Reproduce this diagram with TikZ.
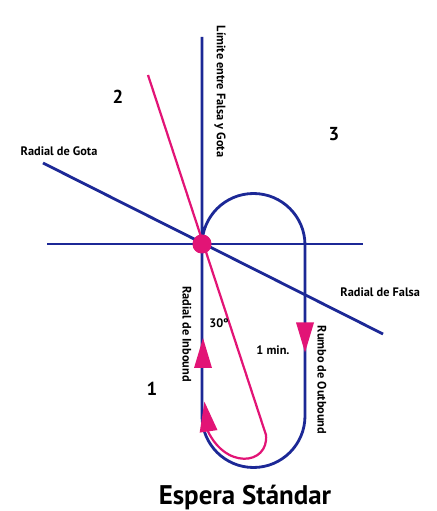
\documentclass[tikz,border=0pt]{standalone}
\usepackage{fontspec}
\setmainfont{PT Sans}
\usepackage{tikz}
\usetikzlibrary{positioning}

\definecolor{azul}{RGB}{28,40,150}
\definecolor{rosa}{RGB}{226,20,118}

\tikzset{
  pics/flecha/.style={code={\fill[rosa] (0,15) -- (-9,-15) -- (9,-15) -- cycle;}}
}

\begin{document}
\begin{tikzpicture}[
  x=0.3mm, y=0.3mm,
  azulline/.style={draw=azul, line width=2.4pt},
  rosaline/.style={draw=rosa, line width=1.9pt},
  lbl/.style={font=\bfseries\fontsize{10.5}{12}\selectfont, inner sep=1pt},
  num/.style={font=\bfseries\fontsize{16}{18}\selectfont, inner sep=1pt}
]
\useasboundingbox (0,0) rectangle (437,511);

% fijo y extremos de las lineas
\node[circle, fill=rosa, minimum size=5.7mm, inner sep=0pt] (fix) at (202,267) {};
\coordinate (limTop) at (202,474);
\coordinate (inBot) at (202,95);
\coordinate (outTop) at (305,266);
\coordinate (hzW) at (47,267);
\coordinate (hzE) at (363,267);
\coordinate (gota) at (43,348);
\coordinate (falsa) at (383,177);
\coordinate (rosaTop) at (148,436);
\coordinate (rosaBot) at (266,76);
\coordinate (rosaEnd) at (206,84);

% lineas azules y circuito de espera
\draw[azulline] (hzW) -- (hzE);
\draw[azulline] (gota) -- (falsa);
\draw[azulline] (limTop) -- (inBot)
  arc[start angle=180, end angle=360, radius=51.5] -- (outTop)
  arc[start angle=0, end angle=180, radius=51.5];

% trayectoria rosa
\draw[rosaline] (rosaTop) -- (rosaBot)
  .. controls (269,46) and (224,40) .. (rosaEnd);
\node[circle, fill=rosa, minimum size=5.7mm, inner sep=0pt] at (fix) {};

% flechas
\pic at (203,158) {flecha};
\pic[rotate=8] at (206.5,94.5) {flecha};
\pic[rotate=180] at (305,173.5) {flecha};

% textos
\node[lbl, rotate=-90] (limite) at (220,419.5) {Límite entre Falsa y Gota};
\node[lbl] (radGota) at (59,360) {Radial de Gota};
\node[lbl, anchor=west] (radFalsa) at (339,219) {Radial de Falsa};
\node[lbl, rotate=-90] (radIn) at (187,177) {Radial de Inbound};
\node[lbl, rotate=-90] (rumboOut) at (322,131) {Rumbo de Outbound};
\node[lbl] (ang) at (219,188) {30º};
\node[lbl] (min) at (273,161) {1 min.};
\node[num] (dos) at (118,414) {2};
\node[num] (tres) at (334,377) {3};
\node[num] (uno) at (152,122) {1};
\node[font=\bfseries\fontsize{23}{25}\selectfont] (titulo) at (245,14) {Espera Stándar};
\end{tikzpicture}
\end{document}
